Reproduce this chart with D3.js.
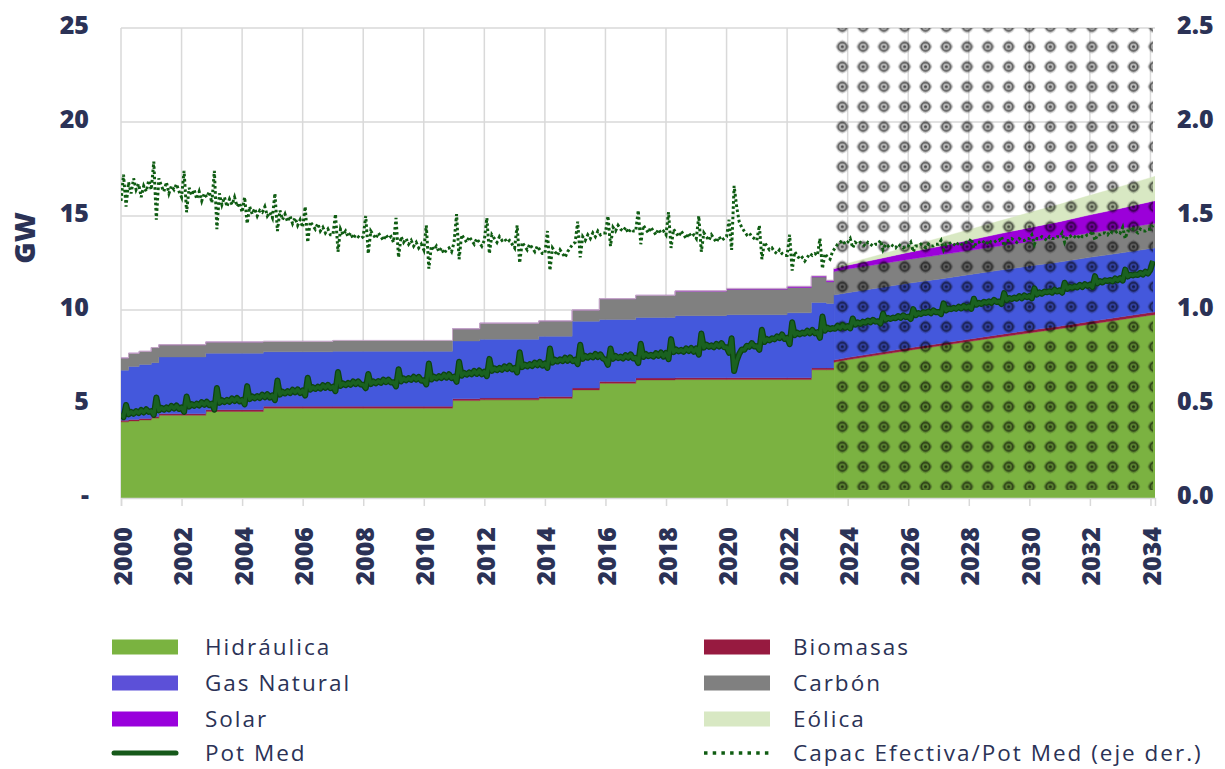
<!DOCTYPE html>
<html><head><meta charset="utf-8">
<script src="https://cdn.jsdelivr.net/npm/d3@7"></script>
<style>
body{margin:0;background:#fff;}
svg{display:block;}
</style></head><body>
<svg id="chart" width="1225" height="769"></svg>
<script>
// ---------------- DATA ----------------
// Monthly series start in January 2000
const monthlyStartYear = 2000;

// Pot Med (GW), monthly
const potMed = [
4.45,4.30,4.95,4.45,4.58,4.48,4.62,4.52,4.68,4.55,4.72,4.58,
4.62,4.42,5.35,4.66,4.80,4.70,4.82,4.72,4.90,4.76,4.92,4.74,
4.82,4.58,5.40,4.86,5.00,4.90,5.02,4.92,5.10,4.96,5.12,4.94,
5.02,4.70,5.85,5.06,5.20,5.10,5.22,5.12,5.30,5.16,5.32,5.14,
5.22,4.98,5.95,5.26,5.40,5.30,5.42,5.32,5.50,5.36,5.52,5.34,
5.46,5.20,6.25,5.50,5.66,5.56,5.68,5.58,5.76,5.62,5.78,5.58,
5.72,5.45,6.40,5.76,5.90,5.80,5.92,5.82,6.00,5.86,6.02,5.84,
5.92,5.68,6.70,5.96,6.10,6.00,6.12,6.02,6.20,6.06,6.20,6.04,
6.02,5.84,6.60,6.06,6.20,6.10,6.22,6.12,6.30,6.16,6.30,6.14,
6.16,5.94,6.85,6.20,6.36,6.26,6.38,6.28,6.45,6.30,6.44,6.24,
6.26,6.04,7.15,6.30,6.46,6.36,6.48,6.38,6.56,6.40,6.58,6.38,
6.46,6.18,7.25,6.50,6.66,6.56,6.68,6.58,6.76,6.60,6.78,6.58,
6.72,6.48,7.40,6.76,6.90,6.80,6.92,6.82,7.00,6.86,7.04,6.84,
6.92,6.68,7.75,6.96,7.10,7.00,7.12,7.02,7.20,7.06,7.24,7.04,
7.16,6.92,7.95,7.20,7.36,7.26,7.38,7.28,7.46,7.30,7.48,7.28,
7.36,7.12,8.15,7.40,7.56,7.46,7.58,7.48,7.66,7.50,7.64,7.42,
7.36,7.08,7.95,7.40,7.56,7.44,7.52,7.42,7.60,7.46,7.64,7.42,
7.46,7.18,8.20,7.50,7.66,7.54,7.62,7.52,7.70,7.56,7.74,7.52,
7.72,7.38,8.45,7.76,7.90,7.80,7.88,7.78,7.96,7.82,7.98,7.78,
7.96,7.62,8.75,8.00,8.16,8.04,8.12,8.02,8.20,8.06,8.24,8.02,
8.02,7.72,8.50,6.75,7.30,7.66,7.90,7.88,8.10,8.04,8.24,8.06,
8.08,7.88,8.95,8.30,8.46,8.38,8.50,8.44,8.60,8.50,8.70,8.46,
8.52,8.18,9.35,8.66,8.80,8.70,8.80,8.74,8.90,8.76,8.94,8.76,
8.82,8.52,9.65,8.90,9.06,8.98,9.04,9.00,9.16,9.04,9.20,9.06,
9.15,9.02,9.55,9.22,9.34,9.26,9.38,9.32,9.44,9.34,9.48,9.38,
9.40,9.28,9.80,9.48,9.58,9.52,9.60,9.56,9.68,9.58,9.72,9.62,
9.65,9.52,10.05,9.72,9.84,9.78,9.88,9.84,9.92,9.82,9.98,9.88,
9.90,9.78,10.35,9.98,10.08,10.04,10.12,10.06,10.18,10.08,10.22,10.12,
10.20,10.06,10.60,10.28,10.38,10.32,10.44,10.38,10.46,10.38,10.54,10.42,
10.45,10.32,10.90,10.52,10.64,10.58,10.66,10.60,10.74,10.62,10.78,10.68,
10.75,10.62,11.15,10.82,10.94,10.86,10.98,10.94,11.00,10.92,11.08,10.98,
11.05,10.92,11.45,11.12,11.24,11.18,11.26,11.20,11.34,11.22,11.38,11.28,
11.35,11.22,11.80,11.42,11.54,11.46,11.58,11.54,11.60,11.52,11.68,11.58,
11.70,11.56,12.15,11.78,11.88,11.84,11.90,11.86,11.98,11.88,12.04,11.94,
12.15,12.60
];

// Capac Efectiva / Pot Med (right axis), monthly
const ratio = [
1.58,1.72,1.55,1.68,1.62,1.70,1.64,1.67,1.60,1.66,1.63,1.69,
1.64,1.79,1.48,1.70,1.66,1.63,1.68,1.62,1.66,1.64,1.67,1.63,
1.60,1.74,1.52,1.65,1.61,1.64,1.59,1.63,1.58,1.62,1.60,1.63,
1.57,1.74,1.43,1.62,1.56,1.60,1.55,1.59,1.56,1.60,1.55,1.57,
1.52,1.60,1.46,1.55,1.51,1.54,1.50,1.53,1.52,1.55,1.50,1.52,
1.49,1.62,1.42,1.53,1.48,1.51,1.47,1.50,1.46,1.49,1.45,1.48,
1.44,1.55,1.36,1.47,1.45,1.43,1.46,1.42,1.44,1.41,1.43,1.40,
1.40,1.51,1.31,1.43,1.40,1.42,1.39,1.41,1.38,1.40,1.39,1.38,
1.39,1.50,1.30,1.42,1.40,1.38,1.41,1.39,1.37,1.40,1.38,1.39,
1.36,1.49,1.28,1.39,1.36,1.38,1.35,1.37,1.34,1.36,1.33,1.35,
1.32,1.45,1.22,1.34,1.32,1.34,1.31,1.33,1.30,1.32,1.33,1.31,
1.36,1.51,1.27,1.40,1.38,1.36,1.39,1.37,1.35,1.38,1.36,1.34,
1.37,1.49,1.30,1.40,1.38,1.36,1.39,1.37,1.38,1.36,1.37,1.35,
1.33,1.45,1.25,1.36,1.34,1.32,1.35,1.33,1.31,1.34,1.32,1.30,
1.30,1.42,1.21,1.33,1.31,1.29,1.32,1.30,1.28,1.31,1.33,1.35,
1.36,1.47,1.28,1.39,1.37,1.40,1.38,1.41,1.39,1.42,1.40,1.41,
1.41,1.50,1.34,1.44,1.42,1.45,1.43,1.42,1.44,1.41,1.43,1.42,
1.42,1.53,1.35,1.45,1.43,1.41,1.44,1.42,1.40,1.43,1.41,1.42,
1.40,1.52,1.33,1.43,1.41,1.39,1.42,1.40,1.38,1.41,1.39,1.40,
1.38,1.50,1.31,1.41,1.39,1.37,1.40,1.38,1.36,1.39,1.37,1.38,
1.39,1.48,1.32,1.66,1.55,1.47,1.44,1.42,1.40,1.41,1.39,1.38,
1.37,1.45,1.27,1.36,1.34,1.32,1.33,1.31,1.30,1.32,1.30,1.29,
1.29,1.40,1.21,1.31,1.29,1.27,1.28,1.26,1.28,1.30,1.29,1.30,
1.29,1.38,1.22,1.30,1.28,1.27,1.31,1.33,1.35,1.36,1.37,1.35,
1.36,1.38,1.33,1.36,1.35,1.36,1.35,1.34,1.36,1.35,1.34,1.35,
1.35,1.37,1.32,1.35,1.34,1.35,1.34,1.33,1.35,1.34,1.33,1.34,
1.34,1.36,1.31,1.34,1.34,1.35,1.34,1.33,1.35,1.34,1.34,1.35,
1.35,1.37,1.32,1.35,1.35,1.36,1.35,1.34,1.36,1.35,1.35,1.36,
1.36,1.38,1.33,1.36,1.36,1.37,1.36,1.35,1.37,1.36,1.36,1.37,
1.37,1.39,1.34,1.37,1.37,1.38,1.37,1.36,1.38,1.37,1.37,1.38,
1.38,1.40,1.35,1.38,1.38,1.39,1.38,1.37,1.39,1.38,1.38,1.39,
1.39,1.41,1.36,1.39,1.39,1.40,1.39,1.38,1.40,1.39,1.39,1.40,
1.40,1.42,1.37,1.40,1.40,1.41,1.41,1.40,1.42,1.41,1.41,1.42,
1.41,1.44,1.38,1.42,1.42,1.43,1.42,1.41,1.43,1.42,1.42,1.43,
1.43,1.45
];

// Installed capacity (GW) by technology, at change dates (decimal years)
const stackDates = [2000.0,2000.25,2000.6,2001.0,2001.25,2002.8,2004.7,2007.0,2010.95,2011.85,2013.8,2014.9,2015.8,2017.0,2018.3,2020.0,2022.0,2022.8,2023.3,
                    2023.55,2024,2025,2026,2027,2028,2029,2030,2031,2032,2033,2034,2034.15];
const hidraulica = [4.05,4.10,4.15,4.25,4.40,4.60,4.78,4.78,5.18,5.22,5.30,5.75,6.10,6.28,6.30,6.30,6.30,6.82,6.82,
                    7.22,7.35,7.60,7.85,8.08,8.32,8.55,8.78,9.00,9.24,9.48,9.72,9.75];
const biomasas   = [0.08,0.08,0.08,0.08,0.08,0.10,0.10,0.10,0.10,0.10,0.10,0.10,0.10,0.10,0.10,0.10,0.10,0.10,0.10,
                    0.12,0.12,0.12,0.13,0.13,0.13,0.14,0.14,0.14,0.15,0.15,0.15,0.15];
const gasNatural = [2.67,2.82,2.87,2.87,3.02,3.00,2.90,2.92,3.07,3.13,3.20,3.55,3.30,3.22,3.30,3.35,3.45,3.48,3.43,
                    3.46,3.45,3.45,3.44,3.43,3.43,3.42,3.42,3.41,3.41,3.40,3.40,3.40];
const carbon     = [0.65,0.70,0.70,0.80,0.65,0.60,0.55,0.58,0.65,0.85,0.82,0.60,1.10,1.18,1.30,1.35,1.35,1.35,1.15,
                    1.25,1.26,1.26,1.27,1.28,1.28,1.29,1.29,1.30,1.30,1.30,1.31,1.31];
const solar      = [0,0,0,0,0,0,0,0,0,0,0,0,0,0,0.02,0.05,0.06,0.06,0.08,
                    0.15,0.20,0.28,0.37,0.46,0.55,0.65,0.75,0.85,0.96,1.07,1.18,1.20];
const eolica     = [0,0,0,0,0,0,0,0,0,0,0,0,0,0,0,0,0,0,0,
                    0.05,0.10,0.20,0.32,0.44,0.56,0.68,0.80,0.92,1.04,1.16,1.28,1.30];

const forecastStart = 2023.55;
const xDomain = [2000, 2034.15];
const xTicks = [2000,2002,2004,2006,2008,2010,2012,2014,2016,2018,2020,2022,2024,2026,2028,2030,2032,2034];
const yTicksLeft = [0,5,10,15,20,25];
const yTickLabelsLeft = ["-","5","10","15","20","25"];
const yTicksRight = [0,0.5,1.0,1.5,2.0,2.5];
const yTickLabelsRight = ["0.0","0.5","1.0","1.5","2.0","2.5"];

const seriesKeys   = ["Hidráulica","Biomasas","Gas Natural","Carbón","Solar","Eólica"];
const seriesValues = [hidraulica, biomasas, gasNatural, carbon, solar, eolica];
const areaColors   = ["#7bb241","#981b40","#4458dc","#808080","#9b00d9","#d8e8c3"];

// ---------------- CHART ----------------
(function () {
const svg = d3.select("#chart");
const pL = 121, pR = 1155, pT = 28, pB = 498;
const textColor = "#2b3256";
const tickFont = "'Open Sans', 'Noto Sans', sans-serif";
const tickSize = "25px";

const x = d3.scaleLinear().domain(xDomain).range([pL, pR]);
const y = d3.scaleLinear().domain([0, 25]).range([pB, pT]);
const yR = d3.scaleLinear().domain([0, 2.5]).range([pB, pT]);

const defs = svg.append("defs");
defs.append("clipPath").attr("id", "plotclip")
  .append("rect").attr("x", pL).attr("y", pT).attr("width", pR - pL).attr("height", pB - pT);

// dotted-diamond pattern for forecast period
const pat = defs.append("pattern").attr("id", "fcpat")
  .attr("patternUnits", "userSpaceOnUse")
  .attr("x", 831.9).attr("y", 16.7).attr("width", 20.8).attr("height", 20);
pat.append("circle").attr("cx", 10.4).attr("cy", 10).attr("r", 6.3).attr("fill", "#000").attr("opacity", 0.16);
pat.append("path").attr("d", "M10.4,2.8 L17.6,10 L10.4,17.2 L3.2,10 Z").attr("fill", "#000").attr("opacity", 0.12);
pat.append("circle").attr("cx", 10.4).attr("cy", 10).attr("r", 4.2).attr("fill", "none").attr("stroke", "#000").attr("stroke-width", 1.8).attr("opacity", 0.5);
pat.append("circle").attr("cx", 10.4).attr("cy", 10).attr("r", 1.5).attr("fill", "#000").attr("opacity", 0.6);

// gridlines
const grid = svg.append("g");
grid.selectAll("line.h").data(yTicksLeft.filter(d => d > 0)).join("line")
  .attr("x1", pL).attr("x2", pR).attr("y1", d => y(d)).attr("y2", d => y(d))
  .attr("stroke", "#d9d9d9").attr("stroke-width", 1.5);
grid.selectAll("line.v").data(xTicks).join("line")
  .attr("x1", d => x(d)).attr("x2", d => x(d)).attr("y1", pT).attr("y2", pB)
  .attr("stroke", "#d9d9d9").attr("stroke-width", 1.5);

// stacked areas
const rows = stackDates.map((t, i) => {
  const r = { t: t };
  seriesKeys.forEach((k, j) => r[k] = seriesValues[j][i]);
  return r;
});
const stack = d3.stack().keys(seriesKeys);
const histStack = stack(rows.filter(r => r.t <= forecastStart));
const fcStack = stack(rows.filter(r => r.t >= forecastStart));

const areaStep = d3.area().curve(d3.curveStepAfter)
  .x(d => x(d.data.t)).y0(d => y(d[0])).y1(d => y(d[1]));
const areaLin = d3.area().curve(d3.curveLinear)
  .x(d => x(d.data.t)).y0(d => y(d[0])).y1(d => y(d[1]));

const areas = svg.append("g").attr("clip-path", "url(#plotclip)");
histStack.forEach((s, j) => {
  areas.append("path").datum(s).attr("d", areaStep).attr("fill", areaColors[j])
    .attr("stroke", areaColors[j]).attr("stroke-width", 0.4);
});
fcStack.forEach((s, j) => {
  areas.append("path").datum(s).attr("d", areaLin).attr("fill", areaColors[j])
    .attr("stroke", areaColors[j]).attr("stroke-width", 0.4);
});

// forecast pattern overlay
svg.append("rect").attr("x", x(forecastStart)).attr("y", pT)
  .attr("width", pR - x(forecastStart) - 2).attr("height", pB - pT - 8)
  .attr("fill", "url(#fcpat)");

// lines
const monthX = i => monthlyStartYear + i / 12;
const lines = svg.append("g").attr("clip-path", "url(#plotclip)");
const potLine = d3.line().x((d, i) => x(monthX(i))).y(d => y(d));
lines.append("path").datum(potMed).attr("d", potLine)
  .attr("fill", "none").attr("stroke", "#0d4410").attr("stroke-width", 6).attr("stroke-linejoin", "round");
lines.append("path").datum(potMed).attr("d", potLine)
  .attr("fill", "none").attr("stroke", "#1a6120").attr("stroke-width", 3.5).attr("stroke-linejoin", "round");
lines.append("path").datum(ratio)
  .attr("d", d3.line().x((d, i) => x(monthX(i))).y(d => yR(d)))
  .attr("fill", "none").attr("stroke", "#0f5c12").attr("stroke-width", 3).attr("stroke-dasharray", "2.6 2.6");

// x axis (line + ticks from d3 axis, labels placed rotated)
const xAxis = d3.axisBottom(x).tickValues(xTicks).tickSize(8).tickFormat("");
const gx = svg.append("g").attr("transform", `translate(0,${pB})`).call(xAxis);
gx.select(".domain").attr("stroke", "#d9d9d9").attr("stroke-width", 1.5);
gx.selectAll(".tick line").attr("stroke", "#d9d9d9").attr("stroke-width", 1.5);
svg.append("g").selectAll("text").data(xTicks).join("text")
  .attr("transform", d => `translate(${x(d) + 10.5},527) rotate(-90)`)
  .attr("text-anchor", "end")
  .attr("fill", textColor).style("font-family", tickFont).style("font-weight", 800).style("font-size", tickSize)
  .text(d => String(d));

const yAxisL = d3.axisLeft(y).tickValues(yTicksLeft).tickSize(0).tickPadding(0)
  .tickFormat((d, i) => yTickLabelsLeft[i]);
const gyl = svg.append("g").attr("transform", `translate(89,0)`).call(yAxisL);
gyl.select(".domain").remove();
gyl.selectAll(".tick text").attr("fill", textColor).attr("dy", "0.22em")
  .style("font-family", tickFont).style("font-weight", 800).style("font-size", tickSize);

const yAxisR = d3.axisRight(yR).tickValues(yTicksRight).tickSize(0).tickPadding(0)
  .tickFormat((d, i) => yTickLabelsRight[i]);
const gyr = svg.append("g").attr("transform", `translate(1177,0)`).call(yAxisR);
gyr.select(".domain").remove();
gyr.selectAll(".tick text").attr("fill", textColor).attr("dy", "0.22em")
  .style("font-family", tickFont).style("font-weight", 800).style("font-size", tickSize);

// y axis title
svg.append("text").attr("transform", "translate(35,238) rotate(-90)")
  .attr("text-anchor", "middle").attr("fill", textColor)
  .style("font-family", tickFont).style("font-weight", 800).style("font-size", "29px").text("GW");

// legend
const legendItems = [
  { name: "Hidráulica", type: "rect", color: "#7ab340", col: 0, row: 0 },
  { name: "Gas Natural", type: "rect", color: "#5c50d8", col: 0, row: 1 },
  { name: "Solar", type: "rect", color: "#9900dc", col: 0, row: 2 },
  { name: "Pot Med", type: "line", color: "#16591a", col: 0, row: 3 },
  { name: "Biomasas", type: "rect", color: "#971a40", col: 1, row: 0 },
  { name: "Carbón", type: "rect", color: "#808080", col: 1, row: 1 },
  { name: "Eólica", type: "rect", color: "#d8e8c3", col: 1, row: 2 },
  { name: "Capac Efectiva/Pot Med (eje der.)", type: "dots", color: "#0f5c12", col: 1, row: 3 }
];
const colX = [112, 704];
const textX = [205, 793];
const rowY = [647, 683, 719, 753];
const lg = svg.append("g");
legendItems.forEach(it => {
  const sx = colX[it.col], cy = rowY[it.row];
  if (it.type === "rect") {
    lg.append("rect").attr("x", sx).attr("y", cy - 7.5).attr("width", 66).attr("height", 15).attr("fill", it.color);
  } else if (it.type === "line") {
    lg.append("line").attr("x1", sx + 2).attr("x2", sx + 64).attr("y1", cy).attr("y2", cy)
      .attr("stroke", it.color).attr("stroke-width", 5).attr("stroke-linecap", "round");
  } else {
    lg.append("line").attr("x1", sx).attr("x2", sx + 66).attr("y1", cy).attr("y2", cy)
      .attr("stroke", it.color).attr("stroke-width", 3.5).attr("stroke-dasharray", "3.5 5.2");
  }
  lg.append("text").attr("x", textX[it.col]).attr("y", cy).attr("dy", "0.35em")
    .attr("fill", textColor).style("font-family", "'Open Sans', 'Noto Sans', sans-serif")
    .style("font-size", "22.5px").style("letter-spacing", "2px").text(it.name);
});
})();
</script>
</body></html>
